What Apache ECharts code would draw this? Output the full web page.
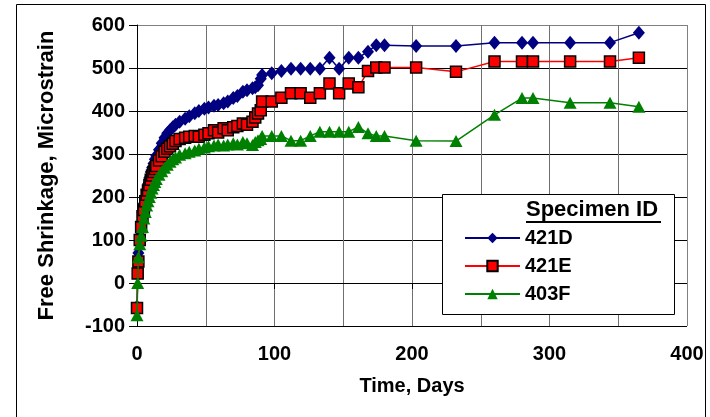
<!DOCTYPE html>
<html><head><meta charset="utf-8">
<script src="https://cdn.jsdelivr.net/npm/echarts/dist/echarts.min.js"></script>
<style>html,body{margin:0;padding:0;background:#fff}#c{width:710px;height:417px}</style>
</head><body><div id="c"></div>
<script>
// Measurement days (shared by all three specimens)
const days = [0,0.5,1,2,3,4,5,6,7,8,9,10,11,12,13,14,16,18,20,22,24,26,28,31,35,38,42,45,49,52,56,59,63,66,70,73,77,80,84,86,88,90,91,98,105,112,119,126,133,140,147,154,161,168,174,180,203,232,260,280,288,315,344,365];
const s421D = [-55,20,70,110,140,165,185,200,215,230,245,258,268,278,288,296,310,325,338,348,355,362,368,375,382,388,395,400,405,408,412,414,418,422,430,435,445,448,453,455,460,475,484,488,493,498,498,498,498,524,498,524,524,538,553,553,551,551,559,559,559,559,559,582];
const s421E = [-58,22,50,100,130,155,170,190,205,215,228,240,250,258,265,272,285,295,305,312,318,324,330,335,338,340,342,340,345,348,355,350,360,355,362,365,371,368,375,385,394,402,422,422,431,441,441,431,441,464,441,464,455,493,501,501,501,491,515,515,515,515,515,524];
const s403F = [-75,0,60,90,110,130,150,165,180,190,200,210,220,228,235,242,252,260,268,275,282,288,292,298,302,305,308,312,315,318,320,322,320,322,325,322,328,325,321,328,332,335,342,342,342,331,331,342,352,352,352,352,363,348,342,342,331,330,391,430,430,419,419,410];
const seriesNames = ['421D','421E','403F'];
const xTicks = {min:0, max:400, step:100};
const yTicks = {min:-100, max:600, step:100};

const chart = echarts.init(document.getElementById('c'));
const font = '"Liberation Sans", Arial, sans-serif';
const pair = arr => days.map((d,i)=>[d, arr[i]]);
chart.setOption({
  animation:false,
  backgroundColor:'#fff',
  grid:{left:137, top:25, right:23, bottom:91, show:false},
  xAxis:{
    type:'value', min:xTicks.min, max:xTicks.max, interval:xTicks.step,
    name:'Time, Days', nameLocation:'middle', nameGap:50,
    nameTextStyle:{fontFamily:font, fontWeight:'bold', fontSize:20, color:'#000'},
    axisLine:{show:true, lineStyle:{color:'#000', width:1}},
    axisTick:{show:true, length:6, lineStyle:{color:'#000'}},
    axisLabel:{fontFamily:font, fontWeight:'bold', fontSize:20, color:'#000', margin:18},
    splitLine:{show:true, lineStyle:{color:'#707070', width:1}},
    minorTick:{show:false, splitNumber:2},
    minorSplitLine:{show:true, lineStyle:{color:'#707070', width:1}}
  },
  yAxis:{
    type:'value', min:yTicks.min, max:yTicks.max, interval:yTicks.step,
    name:'Free Shrinkage, Microstrain', nameLocation:'middle', nameGap:79,
    nameTextStyle:{fontFamily:font, fontWeight:'bold', fontSize:22, color:'#000'},
    axisLine:{show:true, lineStyle:{color:'#000', width:1}},
    axisTick:{show:true, length:8, lineStyle:{color:'#000'}},
    axisLabel:{fontFamily:font, fontWeight:'bold', fontSize:20, color:'#000', margin:12},
    splitLine:{show:true, lineStyle:{color:['#000','#000','#000','#000','#000','#000','#000','#808080'], width:1}}
  },
  legend:{
    show:true, orient:'vertical', left:464, top:228, z:10, padding:0,
    itemWidth:55, itemHeight:13, itemGap:8,
    textStyle:{fontFamily:font, fontWeight:'bold', fontSize:20, color:'#000', lineHeight:20},
    data:seriesNames
  },
  graphic:[
    {type:'rect', z:-1, shape:{x:16.5, y:4.5, width:689, height:430}, style:{fill:null, stroke:'#000', lineWidth:1}},
    {type:'line', z:1, shape:{x1:687.5, y1:25, x2:687.5, y2:326}, style:{stroke:'#808080', lineWidth:1}},
    {type:'rect', z:5, shape:{x:442.5, y:194.5, width:232, height:120}, style:{fill:'#fff', stroke:'#000', lineWidth:1}},
    {type:'text', z:6, left:526, top:199, style:{text:'Specimen ID', fontFamily:font, fontWeight:'bold', fontSize:22, fill:'#000'}},
    {type:'line', z:6, shape:{x1:526, y1:222, x2:661, y2:222}, style:{stroke:'#000', lineWidth:2}}
  ],
  series:[
    {name:seriesNames[0], type:'line', data:pair(s421D), symbol:'diamond', symbolSize:[12,14],
     lineStyle:{color:'#000080', width:1.5}, itemStyle:{color:'#000080'}, z:3},
    {name:seriesNames[1], type:'line', data:pair(s421E), symbol:'rect', symbolSize:11,
     lineStyle:{color:'#ff0000', width:1.5}, itemStyle:{color:'#ff0000', borderColor:'#000', borderWidth:1.5}, z:4},
    {name:seriesNames[2], type:'line', data:pair(s403F), symbol:'triangle', symbolSize:[13,12],
     lineStyle:{color:'#008000', width:1.5}, itemStyle:{color:'#008000'}, z:5}
  ]
});
</script>
</body></html>
